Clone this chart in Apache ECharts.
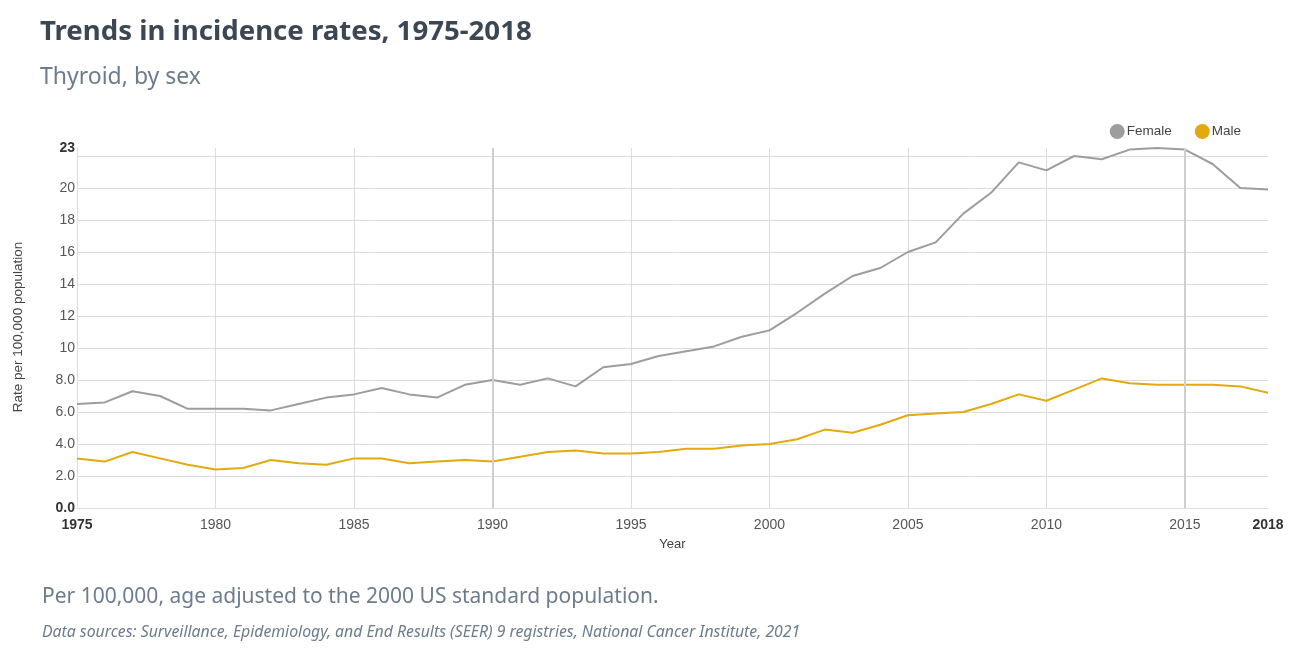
<!DOCTYPE html>
<html>
<head>
<meta charset="utf-8">
<script src="https://cdn.jsdelivr.net/npm/echarts@6/dist/echarts.min.js"></script>
<style>
html,body{margin:0;padding:0;background:#fff;}
#chart{width:1313px;height:661px;}
</style>
</head>
<body>
<div id="chart"></div>
<script>
const years = [1975,1976,1977,1978,1979,1980,1981,1982,1983,1984,1985,1986,1987,1988,1989,1990,1991,1992,1993,1994,1995,1996,1997,1998,1999,2000,2001,2002,2003,2004,2005,2006,2007,2008,2009,2010,2011,2012,2013,2014,2015,2016,2017,2018];
const female = [6.5,6.6,7.3,7.0,6.2,6.2,6.2,6.1,6.5,6.9,7.1,7.5,7.1,6.9,7.7,8.0,7.7,8.1,7.6,8.8,9.0,9.5,9.8,10.1,10.7,11.1,12.2,13.4,14.5,15.0,16.0,16.6,18.4,19.7,21.6,21.1,22.0,21.8,22.4,22.5,22.4,21.5,20.0,19.9];
const male = [3.1,2.9,3.5,3.1,2.7,2.4,2.5,3.0,2.8,2.7,3.1,3.1,2.8,2.9,3.0,2.9,3.2,3.5,3.6,3.4,3.4,3.5,3.7,3.7,3.9,4.0,4.3,4.9,4.7,5.2,5.8,5.9,6.0,6.5,7.1,6.7,7.4,8.1,7.8,7.7,7.7,7.7,7.6,7.2];
const highlightYears = [1990, 2015];
const yAxisTitle = 'Rate per 100,000 population';

const chart = echarts.init(document.getElementById('chart'));
const toPairs = arr => years.map((y,i)=>[y,arr[i]]);
const Y_MAX = 22.5;

chart.setOption({
  animation:false,
  backgroundColor:'#fff',
  title:[
    {text:'Trends in incidence rates, 1975-2018', left:35, top:13,
     textStyle:{fontFamily:'Noto Sans', fontWeight:'bold', fontSize:27.6, color:'#3c4754'}},
    {text:'Thyroid, by sex', left:35, top:61,
     textStyle:{fontFamily:'Noto Sans', fontWeight:'normal', fontSize:23, color:'#6d7c8c'}},
    {text:'Per 100,000, age adjusted to the 2000 US standard population.', left:37, top:582,
     textStyle:{fontFamily:'Noto Sans', fontWeight:'normal', fontSize:21, color:'#6d7c8c'}},
    {text:'Data sources: Surveillance, Epidemiology, and End Results (SEER) 9 registries, National Cancer Institute, 2021', left:37, top:619,
     textStyle:{fontFamily:'Noto Sans', fontStyle:'italic', fontWeight:'normal', fontSize:15.8, color:'#6d7c8c'}}
  ],
  graphic:[
    {type:'text', x:18, y:327, rotation:Math.PI/2,
     style:{text:yAxisTitle, fontFamily:'Liberation Sans', fontSize:13.5, fill:'#444',
            align:'center', verticalAlign:'middle'}}
  ],
  legend:{
    right:67, top:119, icon:'circle', itemWidth:15, itemHeight:15, itemGap:23,
    textStyle:{fontFamily:'Liberation Sans', fontSize:13.5, color:'#444', padding:[0,0,0,-3]},
    data:['Female','Male']
  },
  grid:{left:77, right:45, top:148, bottom:153, containLabel:false, outerBoundsMode:'none'},
  xAxis:{
    type:'value', min:1975, max:2018, interval:5,
    name:'Year', nameLocation:'middle', nameGap:30,
    nameTextStyle:{fontFamily:'Liberation Sans', fontSize:13, color:'#444'},
    axisLine:{show:true, lineStyle:{color:'#dddddd'}},
    axisTick:{show:false},
    axisLabel:{
      fontFamily:'Liberation Sans', fontSize:14, color:'#555', margin:10,
      formatter:v => (v===1975||v===2018) ? '{b|'+v+'}' : String(v),
      rich:{b:{fontWeight:'bold', color:'#333', fontSize:14, fontFamily:'Liberation Sans'}}
    },
    splitLine:{show:true, showMinLine:false, showMaxLine:false, lineStyle:{color:'#dcdcdc', width:1}}
  },
  yAxis:{
    type:'value', min:0, max:Y_MAX, interval:2,
    axisLine:{show:true, lineStyle:{color:'#dddddd'}},
    axisTick:{show:false},
    axisLabel:{
      fontFamily:'Liberation Sans', fontSize:14, color:'#555', margin:2,
      formatter:v => {
        if (v===Y_MAX) return '{b|'+Math.round(v)+'}';
        if (v===0) return '{b|0.0}';
        if (v===22) return '';
        return v<10 ? v.toFixed(1) : String(v);
      },
      rich:{b:{fontWeight:'bold', color:'#333', fontSize:14, fontFamily:'Liberation Sans'}}
    },
    splitLine:{show:true, showMinLine:false, showMaxLine:false, lineStyle:{color:'#dcdcdc', width:1}}
  },
  series:[
    {name:'Female', type:'line', data:toPairs(female), symbol:'none', color:'#9d9d9d',
     lineStyle:{width:2, color:'#9d9d9d'},
     markLine:{silent:true, symbol:'none', label:{show:false},
       lineStyle:{color:'#cfcfcf', width:2, type:'solid'},
       data:highlightYears.map(y=>({xAxis:y}))}},
    {name:'Male', type:'line', data:toPairs(male), symbol:'none', color:'#e2aa0c',
     lineStyle:{width:2, color:'#e2aa0c'}}
  ]
});
</script>
</body>
</html>
